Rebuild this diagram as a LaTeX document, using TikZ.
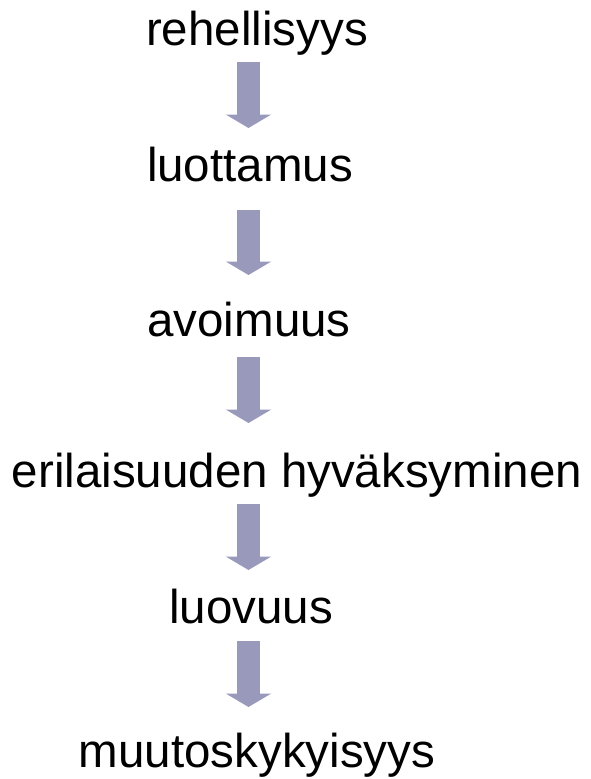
\documentclass[tikz,border=0pt]{standalone}
\usepackage{fontspec}
\setmainfont{Liberation Sans}
\usetikzlibrary{arrows.meta}
\definecolor{arrowfill}{RGB}{153,153,187}
\tikzset{
  word/.style={anchor=base, inner sep=0pt, font=\fontsize{47.5}{56}\selectfont},
  flowarrow/.style={draw=arrowfill, line width=23pt,
    -{Triangle[width=45pt,length=13.5pt]}}
}
\begin{document}
\begin{tikzpicture}[x=1pt,y=-1pt]
\useasboundingbox (0,0) rectangle (590,779);
\node[word] (t1) at (257,45) {rehellisyys};
\node[word] (t2) at (250,181) {luottamus};
\node[word] (t3) at (249,336) {avoimuus};
\node[word] (t4) at (297,487) {erilaisuuden hyväksyminen};
\node[word] (t5) at (251,623) {luovuus};
\node[word] (t6) at (257,767) {muutoskykyisyys};
\coordinate (a1s) at (248.5,62);  \coordinate (a1e) at (248.5,128);
\coordinate (a2s) at (248.5,210); \coordinate (a2e) at (248.5,275);
\coordinate (a3s) at (248.5,357); \coordinate (a3e) at (248.5,423);
\coordinate (a4s) at (248.5,504); \coordinate (a4e) at (248.5,570);
\coordinate (a5s) at (248.5,641); \coordinate (a5e) at (248.5,707);
\draw[flowarrow] (a1s) -- (a1e);
\draw[flowarrow] (a2s) -- (a2e);
\draw[flowarrow] (a3s) -- (a3e);
\draw[flowarrow] (a4s) -- (a4e);
\draw[flowarrow] (a5s) -- (a5e);
\end{tikzpicture}
\end{document}
